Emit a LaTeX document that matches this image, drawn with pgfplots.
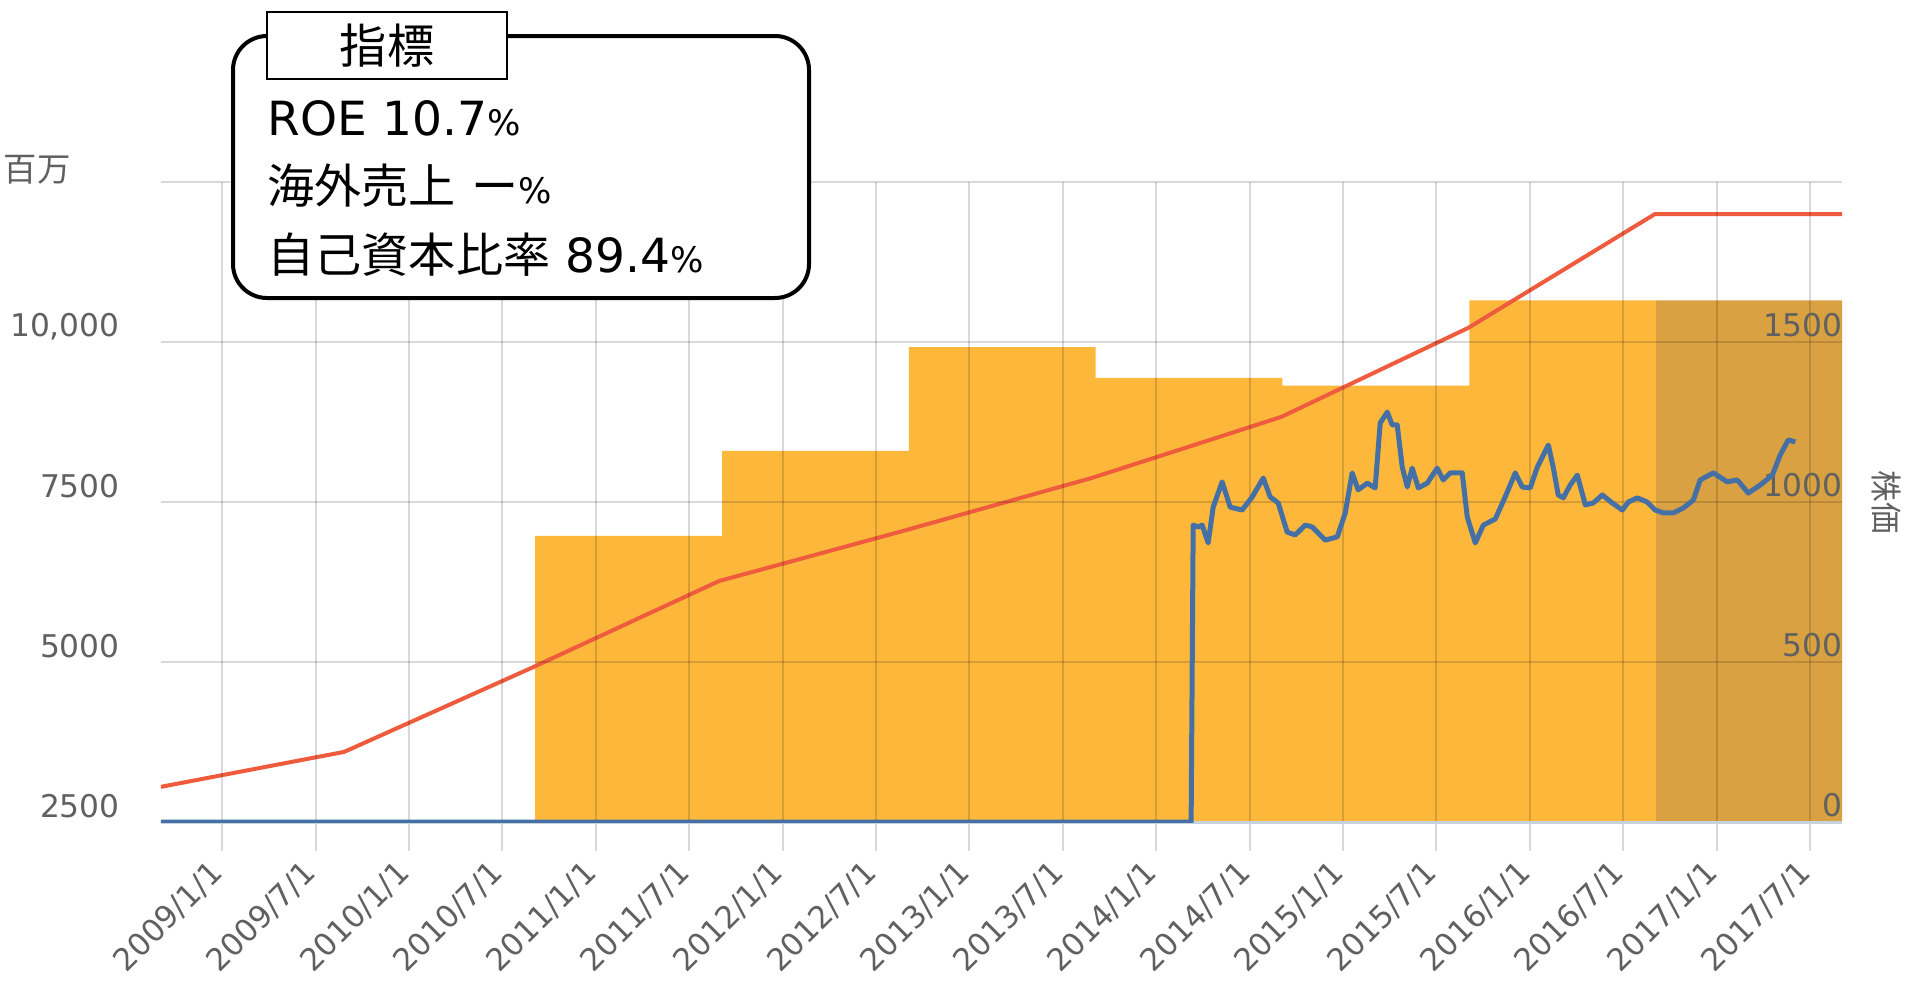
\documentclass[border=0pt]{standalone}
\usepackage{fontspec}
\usepackage{pgfplots}
\pgfplotsset{compat=1.18}
\setmainfont{DejaVu Sans}
\newfontfamily\jp{Noto Sans CJK JP}

\definecolor{barorange}{HTML}{FDB83C}
\definecolor{bardark}{HTML}{D9A142}
\definecolor{netred}{HTML}{EF5B3D}
\definecolor{priceblue}{HTML}{4470A6}
\definecolor{gridgray}{HTML}{D8D8D8}
\definecolor{axisgray}{HTML}{C8D2DE}
\definecolor{labelgray}{HTML}{606060}

\newcommand{\pct}{{\fontsize{10pt}{10pt}\selectfont\%}}

\begin{document}
\begin{tikzpicture}
\useasboundingbox (0,0) rectangle (190.7mm,98.9mm);

% left axis: sales (bars) and net assets (line), in millions of yen
\begin{axis}[
  at={(16.1mm,16.7mm)}, anchor=south west,
  scale only axis, width=168.1mm, height=64mm,
  xmin=2008.673, xmax=2017.671,
  ymin=2500, ymax=12500,
  scaled y ticks=false, scaled x ticks=false,
  axis x line*=bottom, axis y line*=left,
  x axis line style={draw=axisgray, line width=0.3mm, -},
  y axis line style={draw=none, -},
  xtick={2009,2009.5,2010,2010.5,2011,2011.5,2012,2012.5,2013,2013.5,2014,2014.5,2015,2015.5,2016,2016.5,2017,2017.5},
  xticklabels={2009/1/1,2009/7/1,2010/1/1,2010/7/1,2011/1/1,2011/7/1,2012/1/1,2012/7/1,2013/1/1,2013/7/1,2014/1/1,2014/7/1,2015/1/1,2015/7/1,2016/1/1,2016/7/1,2017/1/1,2017/7/1},
  ytick={2500,5000,7500,10000,12500},
  yticklabels={2500,5000,7500,{10,000},{}},
  tick align=outside,
  major tick length=2.9mm,
  xtick style={draw=gridgray, line width=0.2mm},
  ytick style={draw=none},
  grid=major,
  major grid style={draw=black, draw opacity=0.15, line width=0.2mm},
  axis on top,
  xticklabel style={xshift=0.4mm, yshift=-0.8mm, rotate=45, anchor=east,
    font=\fontsize{8.8pt}{8.8pt}\selectfont, text=labelgray},
  yticklabel style={anchor=east, font=\fontsize{8.9pt}{8.9pt}\selectfont,
    text=labelgray, yshift=1.55mm},
]
\addplot[draw=none, fill=barorange, const plot mark left]
  coordinates {(2010.676,6970) (2011.676,8300) (2012.676,9920) (2013.676,9440)
               (2014.676,9320) (2015.676,10650) (2016.676,10650)} \closedcycle;
\addplot[draw=none, fill=bardark, const plot mark left]
  coordinates {(2016.676,10650) (2017.671,10650)} \closedcycle;
\addplot[netred, line width=0.4mm, line cap=round, line join=round]
  coordinates {(2008.673,3050) (2009.653,3595) (2010.654,4905) (2011.660,6265)
               (2012.660,7060) (2013.660,7880) (2014.670,8830) (2015.670,10220)
               (2016.670,12000) (2017.671,12000)};
\end{axis}

% right axis: share price
\begin{axis}[
  at={(16.1mm,16.7mm)}, anchor=south west,
  scale only axis, width=168.1mm, height=64mm,
  xmin=2008.673, xmax=2017.671,
  ymin=0, ymax=2000,
  scaled y ticks=false,
  axis x line*=bottom, axis y line*=right,
  x axis line style={draw=none, -},
  y axis line style={draw=none, -},
  xtick=\empty,
  ytick={0,500,1000,1500},
  yticklabels={0,500,1000,1500},
  ytick style={draw=none},
  major tick length=0pt,
  yticklabel style={anchor=south east, font=\fontsize{8.9pt}{8.9pt}\selectfont,
    text=labelgray, xshift=1.3mm, yshift=-0.75mm},
]
\addplot[priceblue, line width=0.5mm, line join=round]
  coordinates {(2008.673,0) (2014.187,0) (2014.198,928) (2014.225,922) (2014.246,928)
    (2014.278,872) (2014.305,984) (2014.353,1063) (2014.396,984) (2014.460,975)
    (2014.514,1016) (2014.573,1075) (2014.610,1016) (2014.653,997) (2014.701,906)
    (2014.744,897) (2014.798,928) (2014.835,922) (2014.905,881) (2014.969,891)
    (2015.012,966) (2015.049,1091) (2015.081,1038) (2015.130,1059) (2015.172,1044)
    (2015.199,1247) (2015.237,1281) (2015.263,1241) (2015.290,1241) (2015.317,1109)
    (2015.344,1047) (2015.370,1106) (2015.403,1044) (2015.451,1059) (2015.504,1106)
    (2015.536,1069) (2015.574,1091) (2015.638,1091) (2015.665,953) (2015.708,872)
    (2015.751,928) (2015.815,947) (2015.868,1016) (2015.922,1091) (2015.959,1047)
    (2016.002,1044) (2016.040,1109) (2016.099,1178) (2016.125,1109) (2016.152,1022)
    (2016.179,1013) (2016.216,1053) (2016.254,1084) (2016.297,991) (2016.339,997)
    (2016.388,1022) (2016.441,997) (2016.495,975) (2016.527,1000) (2016.575,1013)
    (2016.628,1000) (2016.671,975) (2016.714,966) (2016.768,966) (2016.821,981)
    (2016.875,1006) (2016.912,1069) (2016.982,1091) (2017.057,1063) (2017.110,1069)
    (2017.169,1028) (2017.233,1053) (2017.298,1084) (2017.340,1147) (2017.383,1194)
    (2017.421,1188)};
\end{axis}

% titles and indicator box
\begin{scope}[x=0.1mm, y=-0.1mm, shift={(0,98.9mm)}]
  \node[text=labelgray, font=\jp\fontsize{9.5pt}{9.5pt}\selectfont] at (37,170) {百万};
  \node[text=labelgray, rotate=-90, font=\jp\fontsize{9pt}{9pt}\selectfont] at (1886,502) {株価};
  \draw[line width=0.4mm, rounded corners=3.4mm, fill=white] (233,36) rectangle (809,298);
  \draw[line width=0.15mm, fill=white] (267,12) rectangle (507,79);
  \node[font=\jp\fontsize{13.4pt}{13.4pt}\selectfont] at (387,46) {指標};
  \node[anchor=west, inner sep=0pt, font=\fontsize{13.4pt}{13.4pt}\selectfont] at (267,118)
    {ROE 10.7\pct};
  \node[anchor=west, inner sep=0pt, font=\fontsize{13.4pt}{13.4pt}\selectfont] at (267,186)
    {{\jp 海外売上} {\jp ー}\pct};
  \node[anchor=west, inner sep=0pt, font=\fontsize{13.4pt}{13.4pt}\selectfont] at (267,255)
    {{\jp 自己資本比率} 89.4\pct};
\end{scope}
\end{tikzpicture}
\end{document}
